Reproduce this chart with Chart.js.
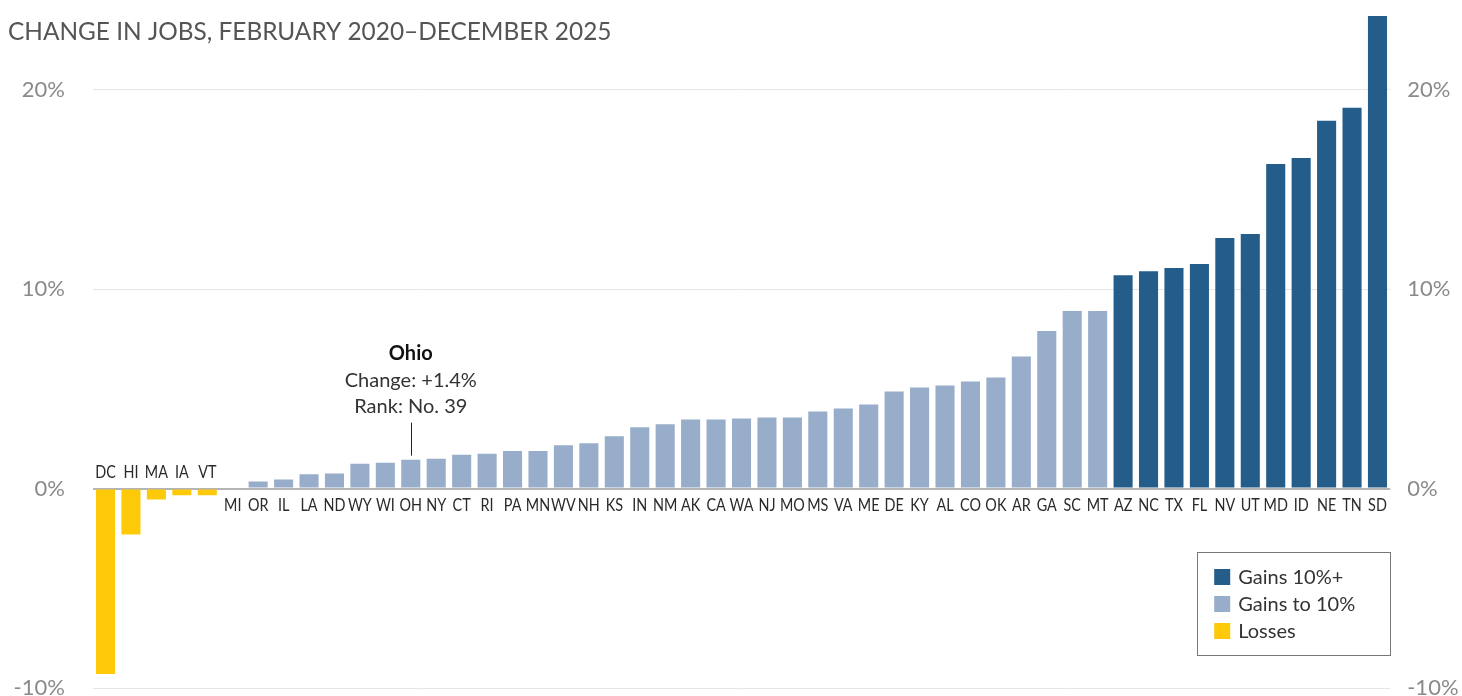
<!DOCTYPE html>
<html>
<head>
<meta charset="utf-8">
<script src="https://cdn.jsdelivr.net/npm/chart.js@4.4.1/dist/chart.umd.min.js"></script>
<style>
    html, body { margin: 0; padding: 0; background: #fff; overflow: hidden; }
    #wrap { position: relative; width: 1462px; height: 696px; }
</style>
</head>
<body>
<div id="wrap"><canvas id="jobsChart"></canvas></div>
<script>
        // States sorted by job change, Feb 2020 - Dec 2025
        const states = [
            'DC', 'HI', 'MA', 'IA', 'VT', 'MI', 'OR', 'IL', 'LA', 'ND',
            'WY', 'WI', 'OH', 'NY', 'CT', 'RI', 'PA', 'MN', 'WV', 'NH',
            'KS', 'IN', 'NM', 'AK', 'CA', 'WA', 'NJ', 'MO', 'MS', 'VA',
            'ME', 'DE', 'KY', 'AL', 'CO', 'OK', 'AR', 'GA', 'SC', 'MT',
            'AZ', 'NC', 'TX', 'FL', 'NV', 'UT', 'MD', 'ID', 'NE', 'TN', 'SD'
        ];
        // Percent change in jobs
        const changes = [
            -9.3, -2.3, -0.55, -0.33, -0.33, 0.0, 0.35, 0.45, 0.72, 0.75,
            1.25, 1.3, 1.45, 1.5, 1.7, 1.75, 1.89, 1.89, 2.17, 2.27,
            2.62, 3.07, 3.22, 3.47, 3.47, 3.52, 3.57, 3.57, 3.87, 4.02,
            4.22, 4.87, 5.07, 5.17, 5.37, 5.57, 6.62, 7.9, 8.9, 8.9,
            10.7, 10.9, 11.06, 11.26, 12.56, 12.76, 16.28, 16.58, 18.44, 19.1, 23.7
        ];
        const yTicks = [-10, 0, 10, 20];
        const legendLabels = ['Gains 10%+', 'Gains to 10%', 'Losses'];

        const DARK = '#245c8a';
        const LIGHT = '#98adc9';
        const YELLOW = '#fec908';
        const legendColors = [DARK, LIGHT, YELLOW];

        const barColors = changes.map(v => v < 0 ? YELLOW : (v >= 10 ? DARK : LIGHT));

        // Custom drawing: subtitle, state labels, Ohio callout, legend box
        const decorations = {
            id: 'decorations',
            afterDraw(chart) {
                const { ctx, chartArea, scales: { x, y } } = chart;
                const zero = y.getPixelForValue(0);
                ctx.save();

                // subtitle
                ctx.font = '24.4px Lato';
                ctx.fillStyle = '#555';
                ctx.textAlign = 'left';
                ctx.textBaseline = 'middle';
                ctx.fillText('CHANGE IN JOBS, FEBRUARY 2020\u2013DECEMBER 2025', 8, 32);

                // state labels: above axis for losses, below for gains
                ctx.font = '18px Lato';
                ctx.fillStyle = '#2a2a2a';
                ctx.textAlign = 'center';
                states.forEach((s, i) => {
                    const px = x.getPixelForValue(i);
                    const py = changes[i] < 0 ? zero - 16 : zero + 17;
                    ctx.save();
                    ctx.translate(px, py);
                    ctx.scale(0.8, 1);
                    ctx.fillText(s, 0, 0);
                    ctx.restore();
                });

                // Ohio callout
                const oi = states.indexOf('OH');
                const ox = x.getPixelForValue(oi);
                const oy = y.getPixelForValue(changes[oi]);
                ctx.strokeStyle = '#222';
                ctx.lineWidth = 1;
                ctx.beginPath();
                ctx.moveTo(Math.round(ox) + 0.5, oy - 4);
                ctx.lineTo(Math.round(ox) + 0.5, oy - 37);
                ctx.stroke();
                ctx.fillStyle = '#111';
                ctx.font = 'bold 20px Lato';
                ctx.fillText('Ohio', ox, oy - 106);
                ctx.fillStyle = '#333';
                ctx.font = '20px Lato';
                ctx.fillText('Change: +1.4%', ox, oy - 79);
                ctx.fillText('Rank: No. 39', ox, oy - 53);

                // legend box
                const bx = chartArea.right - 193, by = chartArea.bottom - 136;
                ctx.strokeStyle = '#777';
                ctx.strokeRect(Math.round(bx) + 0.5, Math.round(by) + 0.5, 193, 103);
                ctx.textAlign = 'left';
                ctx.font = '20px Lato';
                legendLabels.forEach((lab, i) => {
                    const cy = by + 25 + i * 27;
                    ctx.fillStyle = legendColors[i];
                    ctx.fillRect(bx + 17, cy - 8, 16, 16);
                    ctx.fillStyle = '#333';
                    ctx.fillText(lab, bx + 41, cy + 1);
                });

                ctx.restore();
            }
        };

        const fitY = (width) => (scale) => {
            scale.width = width;
            scale.paddingTop = 0;
            scale.paddingBottom = 0;
        };
        const setTicks = (scale) => {
            scale.ticks = yTicks.map(v => ({ value: v }));
        };

        const ctx = document.getElementById('jobsChart').getContext('2d');
        new Chart(ctx, {
            type: 'bar',
            data: {
                labels: states,
                datasets: [{
                    data: changes,
                    backgroundColor: barColors,
                    borderWidth: 0,
                    barPercentage: 0.75,
                    categoryPercentage: 1.0,
                }]
            },
            options: {
                responsive: true,
                maintainAspectRatio: false,
                animation: false,
                layout: { padding: 0 },
                plugins: {
                    legend: { display: false },
                    tooltip: { enabled: false }
                },
                scales: {
                    x: {
                        grid: { display: false },
                        border: { display: false },
                        ticks: { display: false },
                        afterFit: (scale) => { scale.height = 8; }
                    },
                    y: {
                        position: 'left',
                        min: -10,
                        max: 24.5,
                        afterBuildTicks: setTicks,
                        afterFit: fitY(92.8),
                        border: { display: false },
                        grid: {
                            drawTicks: false,
                            color: (c) => c.tick && c.tick.value === 0 ? '#b4b4b4' : '#e6e6e6',
                            lineWidth: (c) => c.tick && c.tick.value === 0 ? 2 : 1
                        },
                        ticks: {
                            padding: 28,
                            color: '#8a8a8a',
                            font: { family: 'Lato', size: 22 },
                            callback: (v) => v + '%'
                        }
                    },
                    y2: {
                        position: 'right',
                        min: -10,
                        max: 24.5,
                        afterBuildTicks: setTicks,
                        afterFit: fitY(71.8),
                        border: { display: false },
                        grid: { display: false, drawTicks: false },
                        ticks: {
                            padding: 17,
                            color: '#8a8a8a',
                            font: { family: 'Lato', size: 22 },
                            callback: (v) => v + '%'
                        }
                    }
                }
            },
            plugins: [decorations]
        });
</script>
</body>
</html>
